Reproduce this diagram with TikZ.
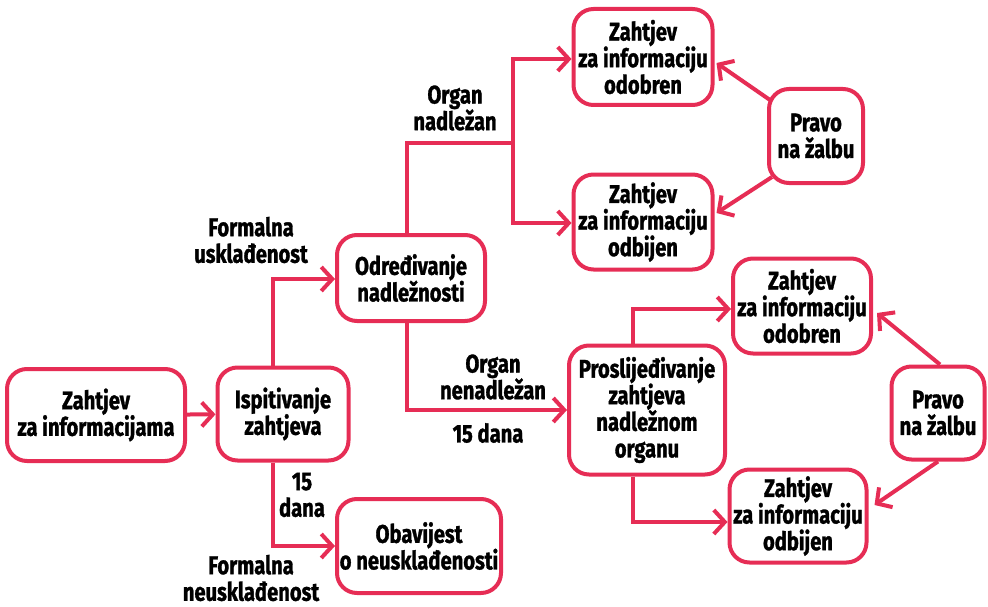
\documentclass[tikz,border=0pt]{standalone}
\usepackage{fontspec}
\setmainfont[FakeStretch=0.79, BoldFeatures={FakeBold=1.2}]{Fira Sans}
\usetikzlibrary{arrows.meta}
\definecolor{pk}{RGB}{230,45,85}
\tikzset{
  box/.style={draw=pk, line width=4pt, rounded corners=20pt, fill=white, align=center, inner sep=0pt,
    font=\fontsize{25.5}{26.6}\selectfont\bfseries},
  lab/.style={align=center, inner sep=0pt, font=\fontsize{25.5}{26.6}\selectfont\bfseries},
  conn/.style={draw=pk, line width=4pt},
  arr/.style={conn, -{Straight Barb[length=11pt, width=24pt]}},
}
\begin{document}
\begin{tikzpicture}[x=1pt,y=-1pt]
\useasboundingbox (0,0) rectangle (988,607);
% boxes
\node[box, minimum width=178pt, minimum height=92pt] (zah) at (96,415) {Zahtjev\\za informacijama};
\node[box, minimum width=131pt, minimum height=93pt] (isp) at (283,414) {Ispitivanje\\zahtjeva};
\node[box, minimum width=148pt, minimum height=86pt] (odr) at (411,278) {Određivanje\\nadležnosti};
\node[box, minimum width=164pt, minimum height=94pt] (oba) at (419,546) {Obavijest\\o neusklađenosti};
\node[box, minimum width=139pt, minimum height=96pt] (odA) at (643,57) {Zahtjev\\za informaciju\\odobren};
\node[box, minimum width=139pt, minimum height=95pt] (obA) at (643,222) {Zahtjev\\za informaciju\\odbijen};
\node[box, minimum width=94pt, minimum height=94pt] (prA) at (816,136) {Pravo\\na žalbu};
\node[box, minimum width=156pt, minimum height=129pt] (pro) at (647,410) {Proslijeđivanje\\zahtjeva\\nadležnom\\organu};
\node[box, minimum width=138pt, minimum height=95pt] (odB) at (802,306) {Zahtjev\\za informaciju\\odobren};
\node[box, minimum width=137pt, minimum height=93pt] (obB) at (798,516) {Zahtjev\\za informaciju\\odbijen};
\node[box, minimum width=93pt, minimum height=93pt] (prB) at (938,413) {Pravo\\na žalbu};
% labels
\node[lab] (l1) at (251,240) {Formalna\\usklađenost};
\node[lab] (l2) at (302,495) {15\\dana};
\node[lab] (l3) at (251,578) {Formalna\\neusklađenost};
\node[lab] (l4) at (455,108) {Organ\\nadležan};
\node[lab] (l5) at (493,377) {Organ\\nenadležan};
\node[lab] (l6) at (488,433) {15 dana};
% connectors
\coordinate (split) at (513,143);
\draw[arr] (zah) -- (isp);
\draw[arr] ([xshift=-10pt]isp.north) |- ([yshift=-1pt]odr.west);
\draw[arr] ([xshift=-10pt]isp.south) |- (oba.west);
\draw[conn] ([xshift=-4pt]odr.north) |- (split);
\draw[arr] (split) |- ([yshift=-2pt]odA.west);
\draw[arr] (split) |- ([yshift=-1pt]obA.west);
\draw[arr] ([xshift=-4pt]odr.south) |- (pro.west);
\draw[arr] ([xshift=-14pt]pro.north) |- ([yshift=-3pt]odB.west);
\draw[arr] ([xshift=-14pt]pro.south) |- ([yshift=-6pt]obB.west);
\draw[arr] ([shift={(3,-36)}]prA.west) -- ([shift={(2,6)}]odA.east);
\draw[arr] ([shift={(5,41)}]prA.west) -- ([shift={(2,-9)}]obA.east);
\draw[arr] ([shift={(2,0)}]prB.north) -- ([shift={(4,7)}]odB.east);
\draw[arr] (prB.south) -- ([shift={(6,-11)}]obB.east);
\end{tikzpicture}
\end{document}
